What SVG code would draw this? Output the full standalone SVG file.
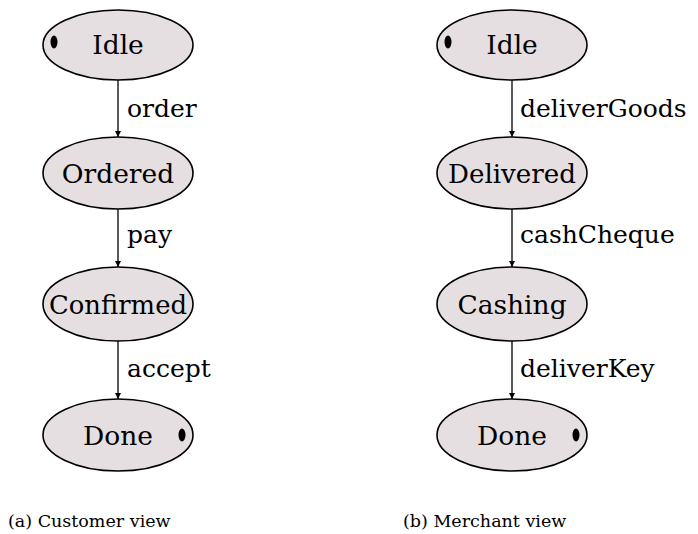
<svg xmlns="http://www.w3.org/2000/svg" width="698" height="534" viewBox="0 0 698 534">
<defs>
<marker id="ah" viewBox="0 0 10 10" refX="10" refY="5" markerWidth="6" markerHeight="8" markerUnits="userSpaceOnUse" orient="auto">
<path d="M0,0 L10,5 L0,10 z" fill="#000"/>
</marker>
</defs>
<style>
.b{fill:#e5dfe2;stroke:#000;stroke-width:1.6}
text{font-family:"DejaVu Serif",serif;fill:#000}
.nt{font-size:26.5px;text-anchor:middle}
.lbl{font-size:25px}
.cap{font-size:17.5px}
.dot{fill:#000}
.edge{stroke:#000;stroke-width:1.3;fill:none;marker-end:url(#ah)}
</style>
<rect width="698" height="534" fill="#fff"/>
<g id="a-idle"><ellipse class="b" cx="118" cy="45" rx="75" ry="35"/><ellipse class="dot" cx="54" cy="42" rx="3.5" ry="6.5"/><text class="nt" x="118" y="54">Idle</text></g>
<g id="a-ordered"><ellipse class="b" cx="118" cy="173" rx="75" ry="36"/><text class="nt" x="118" y="183">Ordered</text></g>
<g id="a-confirmed"><ellipse class="b" cx="118" cy="304" rx="75" ry="37"/><text class="nt" x="118" y="314" textLength="138" lengthAdjust="spacingAndGlyphs">Confirmed</text></g>
<g id="a-done"><ellipse class="b" cx="118" cy="435" rx="75" ry="36"/><ellipse class="dot" cx="182" cy="435" rx="3.5" ry="6.5"/><text class="nt" x="118" y="445">Done</text></g>
<g id="b-idle"><ellipse class="b" cx="512" cy="45" rx="75" ry="35"/><ellipse class="dot" cx="448" cy="42" rx="3.5" ry="6.5"/><text class="nt" x="512" y="54">Idle</text></g>
<g id="b-delivered"><ellipse class="b" cx="512" cy="173" rx="75" ry="36"/><text class="nt" x="512" y="183" textLength="128" lengthAdjust="spacingAndGlyphs">Delivered</text></g>
<g id="b-cashing"><ellipse class="b" cx="512" cy="304" rx="75" ry="37"/><text class="nt" x="512" y="314">Cashing</text></g>
<g id="b-done"><ellipse class="b" cx="512" cy="435" rx="75" ry="36"/><ellipse class="dot" cx="576" cy="435" rx="3.5" ry="6.5"/><text class="nt" x="512" y="445">Done</text></g>
<g id="connectors">
<line class="edge" x1="118" y1="80" x2="118" y2="137"/>
<line class="edge" x1="118" y1="209" x2="118" y2="267"/>
<line class="edge" x1="118" y1="341" x2="118" y2="399"/>
<line class="edge" x1="512" y1="80" x2="512" y2="137"/>
<line class="edge" x1="512" y1="209" x2="512" y2="267"/>
<line class="edge" x1="512" y1="341" x2="512" y2="399"/>
<text class="lbl" x="127" y="117">order</text>
<text class="lbl" x="127" y="243">pay</text>
<text class="lbl" x="127" y="377">accept</text>
<text class="lbl" x="520" y="117">deliverGoods</text>
<text class="lbl" x="520" y="243">cashCheque</text>
<text class="lbl" x="520" y="377">deliverKey</text>
</g>
<text class="cap" x="8" y="527">(a) Customer view</text>
<text class="cap" x="403" y="527">(b) Merchant view</text>
</svg>
